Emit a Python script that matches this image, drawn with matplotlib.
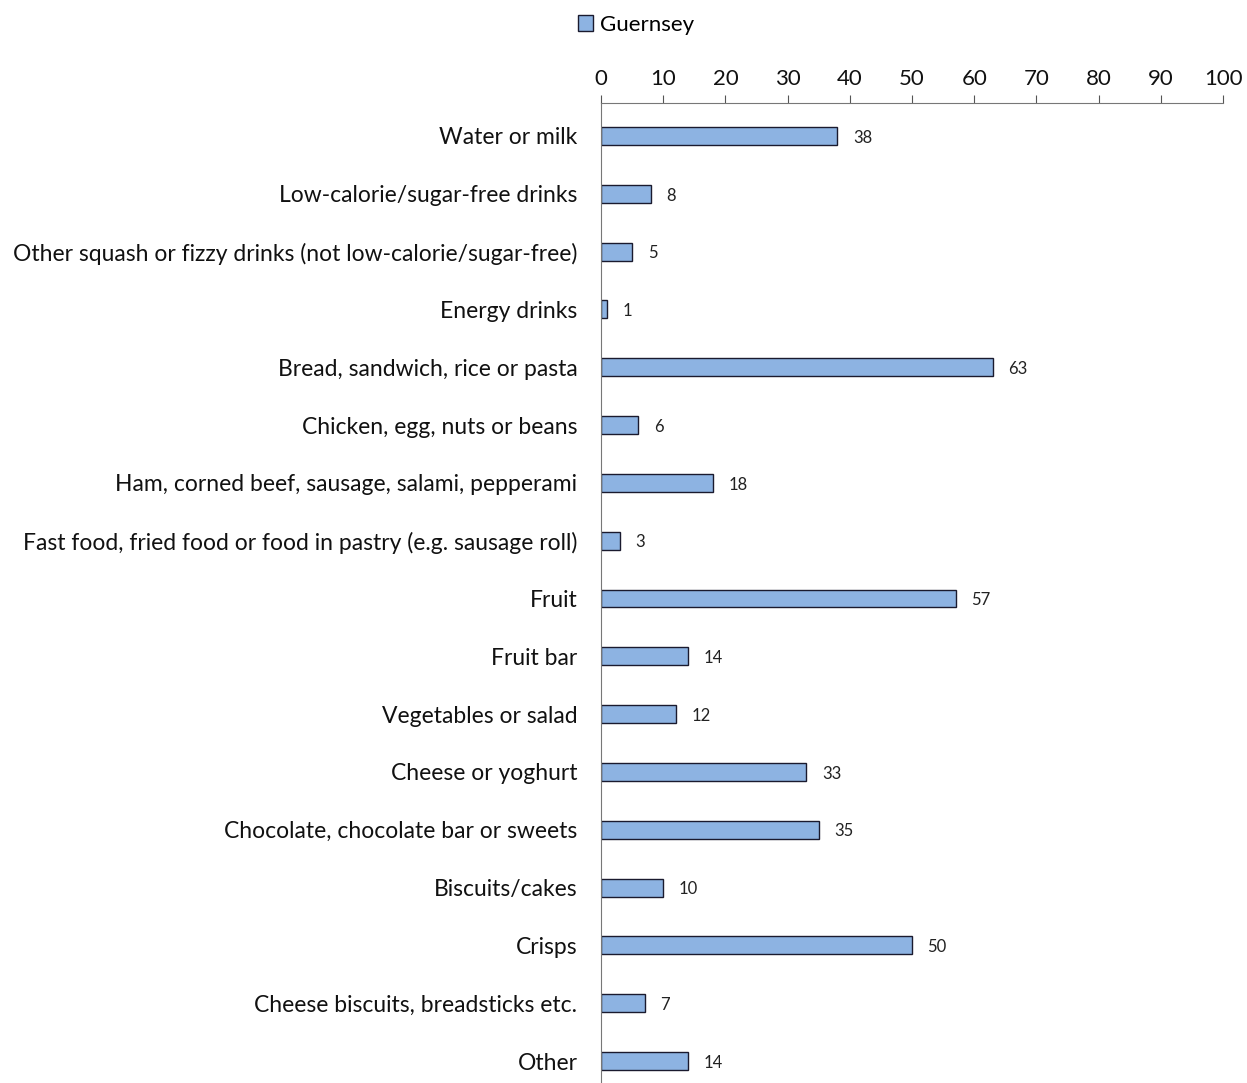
import matplotlib.pyplot as plt

categories = [
    'Water or milk',
    'Low-calorie/sugar-free drinks',
    'Other squash or fizzy drinks (not low-calorie/sugar-free)',
    'Energy drinks',
    'Bread, sandwich, rice or pasta',
    'Chicken, egg, nuts or beans',
    'Ham, corned beef, sausage, salami, pepperami',
    'Fast food, fried food or food in pastry (e.g. sausage roll)',
    'Fruit',
    'Fruit bar',
    'Vegetables or salad',
    'Cheese or yoghurt',
    'Chocolate, chocolate bar or sweets',
    'Biscuits/cakes',
    'Crisps',
    'Cheese biscuits, breadsticks etc.',
    'Other',
]
values = [38, 8, 5, 1, 63, 6, 18, 3, 57, 14, 12, 33, 35, 10, 50, 7, 14]
xticks = [0, 10, 20, 30, 40, 50, 60, 70, 80, 90, 100]

plt.rcParams['font.family'] = ['Lato', 'DejaVu Sans']

fig = plt.figure(figsize=(12.47, 10.83), dpi=100)
ax = fig.add_axes([0.482, 0.0, 0.4988, 0.9049])

pos = list(range(len(categories)))
ax.barh(pos, values, height=0.31, color='#8DB3E2', edgecolor='#1a1a2e',
        linewidth=1.0, label='Guernsey')

# value labels to the right of each bar
for p, v in zip(pos, values):
    ax.text(v + 2.5, p + 0.03, str(v), va='center', ha='left', fontsize=12,
            color='#222222')

ax.set_xlim(0, 100)
ax.set_ylim(16.38, -0.57)
ax.set_yticks(pos)
ax.set_yticklabels(categories, fontsize=16.5, color='#111111')
ax.set_xticks(xticks)
ax.xaxis.tick_top()
ax.tick_params(axis='x', labelsize=16, length=6, color='#555555', pad=4,
               labelcolor='#111111')
ax.tick_params(axis='y', length=0, pad=17)

for s in ['right', 'bottom']:
    ax.spines[s].set_visible(False)
ax.spines['top'].set_color('#777777')
ax.spines['left'].set_color('#777777')

fig.legend(loc='upper center', bbox_to_anchor=(0.51, 1.005), frameon=False,
           fontsize=16, handlelength=0.7, handleheight=0.7, handletextpad=0.3)

fig.savefig('out.png', dpi=100)
